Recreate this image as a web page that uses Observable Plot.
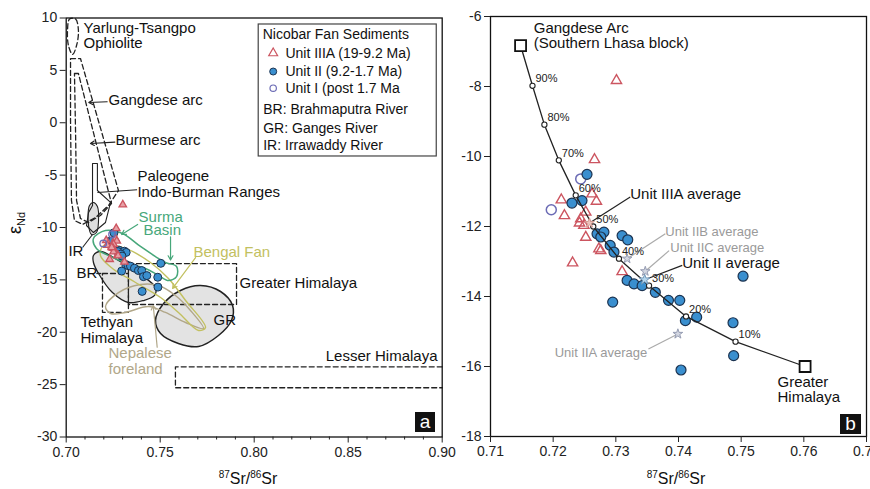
<!DOCTYPE html>
<html><head><meta charset="utf-8">
<script src="https://cdn.jsdelivr.net/npm/d3@7"></script>
<script src="https://cdn.jsdelivr.net/npm/@observablehq/plot@0.6"></script>
<style>
html,body{margin:0;padding:0;background:#fff;overflow:hidden}
#wrap{position:relative;width:870px;height:489px;overflow:hidden;background:#fff;font-family:"Liberation Sans",Arial,Helvetica,sans-serif;color:#111}
#pa{position:absolute;left:0;top:0;width:446px;height:489px}
#pb{position:absolute;left:446px;top:0;width:424px;height:489px}
.ttl{position:absolute;font-size:16px;white-space:nowrap;transform:translate(-50%,-50%)}
.ttl sup{font-size:10px;vertical-align:6px;line-height:0}
.ylab{position:absolute;font-size:18px;white-space:nowrap;transform:translate(-50%,-50%) rotate(-90deg)}
.ylab sub{font-size:11px;vertical-align:-4px;line-height:0}
.tag{position:absolute;background:#111;color:#fff;font-size:19px;line-height:20px;text-align:center}
</style></head>
<body><div id="wrap"><div id="pb"></div><div id="pa"></div>
<div class="ylab" style="left:15px;top:223px">ε<sub>Nd</sub></div>
<div class="ttl" style="left:248px;top:479px"><sup>87</sup>Sr/<sup>86</sup>Sr</div>
<div class="ttl" style="left:676px;top:479px"><sup>87</sup>Sr/<sup>86</sup>Sr</div>
<div class="tag" style="left:415px;top:412px;width:20px;height:20px">a</div>
<div class="tag" style="left:840px;top:414px;width:21px;height:20px">b</div>
</div>
<script>
const FONT = "'Liberation Sans', Arial, Helvetica, sans-serif";

// ---------- Nicobar Fan sediments: [87Sr/86Sr, εNd] ----------
const unitIIIA = [
  [0.7301,-7.83],[0.7266,-10.09],[0.7213,-11.24],[0.7218,-11.69],[0.7262,-11.07],
  [0.7269,-11.28],[0.7244,-11.78],[0.7252,-11.59],[0.7249,-11.97],[0.7252,-12.31],
  [0.7273,-12.64],[0.7276,-12.69],[0.7231,-13.04],[0.7310,-13.29],[0.7242,-11.90]
];
const unitII = [
  [0.7254,-10.51],[0.7230,-11.33],[0.7246,-11.26],[0.7270,-12.21],[0.7281,-12.16],
  [0.7276,-12.30],[0.7310,-12.26],[0.7319,-12.38],[0.7291,-12.54],[0.7297,-12.73],
  [0.7318,-13.54],[0.7329,-13.64],[0.7342,-13.69],[0.7363,-13.88],[0.7384,-14.11],
  [0.7295,-14.16],[0.7402,-14.11],[0.7411,-14.69],[0.7429,-14.59],[0.7487,-14.75],
  [0.7503,-13.42],[0.7488,-15.69],[0.7404,-16.10]
];
const unitI = [[0.7197,-11.52],[0.7244,-10.64]];

// ---------- mixing model ----------
const mixPct = [90,80,70,60,50,40,30,20,10];
const mixSr  = [0.7167,0.7186,0.7209,0.7236,0.7264,0.7305,0.7353,0.7412,0.7491];
const mixNd  = [-7.98,-9.09,-10.11,-11.11,-12.00,-12.92,-13.69,-14.57,-15.29];
const endSr = [0.7148, 0.7602];   // Gangdese Arc, Greater Himalaya
const endNd = [-6.83, -16.0];

// ---------- averages ----------
const avgNames = ["Unit IIIA average","Unit IIB average","Unit IIC average","Unit II average","Unit IIA average"];
const avgSr = [0.7258,0.7318,0.7347,0.7346,0.7399];
const avgNd = [-11.90,-12.92,-13.28,-13.52,-15.07];

// ---------- source fields (panel a) ----------
const ophiolite = [[0.7018,9.9],[0.7050,9.9],[0.7065,8.8],[0.7055,7.37],[0.7034,6.52],[0.7012,7.37],[0.7007,8.8]];
const gangdeseField = [[0.7023,6.13],[0.7076,6.13],[0.7278,-6.47],[0.7225,-7.9],[0.7156,-9.05],[0.7087,-9.71],[0.7044,-9.33],[0.7028,-7.42],[0.7023,0.21]];
const burmeseField = [[0.7044,4.70],[0.7065,4.70],[0.7241,-7.71],[0.7182,-8.85],[0.7119,-9.52],[0.7076,-9.14],[0.7055,-7.42],[0.7050,-1.12]];
const indoBurman = [[0.7140,-3.89],[0.7166,-3.89],[0.7166,-6.47],[0.7236,-7.61],[0.7209,-9.52],[0.7145,-10.48],[0.7108,-9.81],[0.7119,-8.57],[0.7140,-7.90]];
const irrawaddy = [[0.7124,-7.90],[0.7145,-7.61],[0.7166,-7.99],[0.7172,-9.33],[0.7161,-10.48],[0.7135,-10.67],[0.7119,-9.81]];
const brahmaputra = [[0.7145,-12.67],[0.7182,-12.29],[0.7278,-13.15],[0.7395,-14.49],[0.7475,-15.73],[0.7470,-16.49],[0.7411,-16.97],[0.7331,-17.16],[0.7246,-16.21],[0.7172,-14.39],[0.7145,-13.34]];
const ganges = [[0.7475,-18.88],[0.7518,-17.26],[0.7608,-16.01],[0.7714,-15.54],[0.7821,-16.11],[0.7885,-17.45],[0.7879,-18.88],[0.7810,-20.31],[0.7704,-21.36],[0.7597,-21.07],[0.7502,-20.12]];
const surma = [[0.7145,-11.05],[0.7209,-10.29],[0.7299,-10.57],[0.7395,-11.81],[0.7475,-12.77],[0.7528,-13.34],[0.7587,-13.72],[0.7587,-14.68],[0.7544,-15.06],[0.7491,-14.58],[0.7422,-13.91],[0.7315,-13.34],[0.7225,-12.67],[0.7161,-12.0]];
const bengalFan = [[0.7198,-11.72],[0.7315,-12.0],[0.7448,-13.34],[0.7544,-14.87],[0.7635,-16.97],[0.7741,-19.55],[0.7704,-19.83],[0.7597,-18.11],[0.7502,-16.68],[0.7369,-15.25],[0.7246,-13.91],[0.7182,-12.67]];
const nepalForeland = [[0.7209,-17.54],[0.7278,-16.21],[0.7395,-15.44],[0.7491,-15.54],[0.7581,-16.49],[0.7661,-17.92],[0.7730,-19.64],[0.7635,-19.07],[0.7528,-18.11],[0.7438,-17.54],[0.7315,-18.11],[0.7236,-18.21]];
const greaterHimBox = [[0.7331,-13.44],[0.7906,-13.44],[0.7906,-17.35],[0.7331,-17.35]];
const tethyanBox = [[0.7193,-14.39],[0.7331,-14.39],[0.7331,-18.10],[0.7193,-18.10]];
const lesserHimBox = [[0.90,-23.3],[0.7581,-23.3],[0.7581,-25.3],[0.90,-25.3]];

// ---------- ticks ----------
const xTicksA = [0.70,0.75,0.80,0.85,0.90];
const xMinorA = [0.71,0.72,0.73,0.74,0.76,0.77,0.78,0.79,0.81,0.82,0.83,0.84,0.86,0.87,0.88,0.89];
const yTicksA = [10,5,0,-5,-10,-15,-20,-25,-30];
const xTicksB = [0.71,0.72,0.73,0.74,0.75,0.76,0.77];
const yTicksB = [-6,-8,-10,-12,-14,-16,-18];

// ---------- annotations (panel a) ----------
const labelsA = [
  {t:"Yarlung-Tsangpo", x:0.7092, y:9.0},
  {t:"Ophiolite", x:0.7092, y:7.55},
  {t:"Gangdese arc", x:0.7225, y:2.12},
  {t:"Burmese arc", x:0.7262, y:-1.65},
  {t:"Paleogene", x:0.7379, y:-5.13},
  {t:"Indo-Burman Ranges", x:0.7379, y:-6.61},
  {t:"IR", x:0.7012, y:-12.29},
  {t:"BR", x:0.7055, y:-14.39},
  {t:"Greater Himalaya", x:0.7922, y:-15.35},
  {t:"Tethyan", x:0.7076, y:-19.07},
  {t:"Himalaya", x:0.7076, y:-20.55},
  {t:"GR", x:0.7784, y:-18.88}
];
const greenLabels = [{t:"Surma", x:0.7385, y:-9.05},{t:"Basin", x:0.7411, y:-10.29}];
const oliveLabels = [{t:"Bengal Fan", x:0.7677, y:-12.39}];
const tanLabels = [{t:"Nepalese", x:0.7225, y:-22.03},{t:"foreland", x:0.7225, y:-23.50}];
const legendUnits = ["Unit IIIA (19-9.2 Ma)","Unit II (9.2-1.7 Ma)","Unit I (post 1.7 Ma"];
const legendUnitNd = [6.64,4.89,3.30];
const legendRivers = ["BR: Brahmaputra River","GR: Ganges River","IR: Irrawaddy River"];
const legendRiverNd = [1.26,-0.55,-2.17];

const BLUE = "#3a8fcf", BLUEST = "#1c3350", RED = "#cc5560", VIOLET = "#6b6bb5";
const GREEN = "#47a77a", OLIVE = "#c2c060", TAN = "#b1a789";

const P = d => d[0], Q = d => d[1];
const dash = {stroke:"#222", strokeWidth:1.3, strokeDasharray:"5,3", fill:"none"};
const txt = (arr, o) => Plot.text(arr, {x:"x", y:"y", text:"t", textAnchor:"start", fontSize:15, fill:"#111", ...o});

const pa = Plot.plot({
  width: 446, height: 489,
  marginLeft: 65.7, marginRight: 4.3, marginTop: 17.5, marginBottom: 52.5,
  x: {domain: [0.70, 0.90]},
  y: {domain: [-30, 10]},
  style: {fontFamily: FONT, fontSize: "14px", color: "#222", background: "transparent", overflow: "visible"},
  marks: [
    Plot.line(ganges, {x:P, y:Q, curve:"catmull-rom-closed", fill:"#e3e3e3", stroke:"#222", strokeWidth:1.5}),
    Plot.line(brahmaputra, {x:P, y:Q, curve:"catmull-rom-closed", fill:"#e3e3e3", stroke:"#222", strokeWidth:1.3}),
    Plot.line(irrawaddy, {x:P, y:Q, curve:"catmull-rom-closed", fill:"#dedede", stroke:"#222", strokeWidth:1.1}),
    Plot.line(indoBurman, {x:P, y:Q, curve:"linear-closed", stroke:"#222", strokeWidth:1.1, fill:"none"}),
    Plot.line(ophiolite, {x:P, y:Q, curve:"catmull-rom-closed", ...dash}),
    Plot.line(gangdeseField, {x:P, y:Q, curve:"linear-closed", ...dash}),
    Plot.line(burmeseField, {x:P, y:Q, curve:"linear-closed", ...dash}),
    Plot.line(greaterHimBox, {x:P, y:Q, curve:"linear-closed", ...dash}),
    Plot.line(tethyanBox, {x:P, y:Q, curve:"linear-closed", ...dash}),
    Plot.line(lesserHimBox, {x:P, y:Q, ...dash}),
    Plot.link([0], {x1:0.7160, y1:-14.39, x2:0.7193, y2:-14.39, ...dash}),
    Plot.line(nepalForeland, {x:P, y:Q, curve:"catmull-rom-closed", stroke:TAN, strokeWidth:1.4, fill:"none"}),
    Plot.line(bengalFan, {x:P, y:Q, curve:"catmull-rom-closed", stroke:OLIVE, strokeWidth:1.4, fill:"none"}),
    Plot.line(surma, {x:P, y:Q, curve:"catmull-rom-closed", stroke:GREEN, strokeWidth:1.5, fill:"none"}),
    Plot.arrow([0], {x1:0.7218, y1:2.0, x2:0.7120, y2:1.93, stroke:"#222", strokeWidth:1.1, headLength:6}),
    Plot.arrow([0], {x1:0.7259, y1:-1.85, x2:0.7129, y2:-1.98, stroke:"#222", strokeWidth:1.1, headLength:6}),
    Plot.link([0], {x1:0.7377, y1:-6.40, x2:0.7166, y2:-6.66, stroke:"#222", strokeWidth:1.1}),
    Plot.link([0], {x1:0.7087, y1:-11.91, x2:0.7140, y2:-10.67, stroke:"#222", strokeWidth:1.1}),
    Plot.arrow([0], {x1:0.7380, y1:-9.71, x2:0.7295, y2:-10.67, stroke:GREEN, strokeWidth:1.2, headLength:6}),
    Plot.arrow([0], {x1:0.7555, y1:-10.9, x2:0.7555, y2:-13.1, stroke:GREEN, strokeWidth:1.2, headLength:6}),
    Plot.arrow([0], {x1:0.7688, y1:-12.87, x2:0.7566, y2:-15.82, stroke:OLIVE, strokeWidth:1.2, headLength:6}),
    Plot.arrow([0], {x1:0.7484, y1:-21.43, x2:0.7463, y2:-17.45, stroke:TAN, strokeWidth:1.2, headLength:6}),
    Plot.dot(unitII, {x:P, y:Q, r:4, fill:BLUE, stroke:BLUEST, strokeWidth:1}),
    Plot.dot(unitIIIA, {x:P, y:Q, r:2.8, symbol:"triangle", fill:"#e7a0a6", stroke:RED, strokeWidth:1.3}),
    Plot.dot(unitI, {x:P, y:Q, r:3.3, fill:"none", stroke:VIOLET, strokeWidth:1.3}),
    txt(labelsA, {}),
    txt(greenLabels, {fill:GREEN}),
    txt(oliveLabels, {fill:OLIVE}),
    txt(tanLabels, {fill:TAN}),
    Plot.text(["Lesser Himalaya"], {x:0.8975, y:-22.31, text:d=>d, textAnchor:"end", fontSize:15, fill:"#111"}),
    Plot.rect([0], {x1:0.8024, x2:0.8971, y1:9.38, y2:-3.22, fill:"white", stroke:"#444", strokeWidth:1.2}),
    Plot.text(["Nicobar Fan Sediments"], {x:0.8045, y:8.42, text:d=>d, textAnchor:"start", fontSize:14, fill:"#111"}),
    Plot.dot([0], {x:0.8101, y:legendUnitNd[0], r:3.3, symbol:"triangle", fill:"none", stroke:RED, strokeWidth:1.2}),
    Plot.dot([0], {x:0.8101, y:legendUnitNd[1], r:3.5, fill:BLUE, stroke:BLUEST, strokeWidth:1}),
    Plot.dot([0], {x:0.8101, y:legendUnitNd[2], r:3.2, fill:"none", stroke:VIOLET, strokeWidth:1.2}),
    Plot.text(legendUnits, {x:0.8166, y:(d,i)=>legendUnitNd[i], text:d=>d, textAnchor:"start", fontSize:14, fill:"#111"}),
    Plot.text(legendRivers, {x:0.8048, y:(d,i)=>legendRiverNd[i], text:d=>d, textAnchor:"start", fontSize:14, fill:"#111"}),
    Plot.frame({stroke:"#111", strokeWidth:1.3}),
    Plot.axisX({ticks:xMinorA, tickSize:3, tickFormat:()=>"", label:null}),
    Plot.axisX({ticks:xTicksA, tickSize:6, tickPadding:4, tickFormat:d=>d.toFixed(2), label:null, fontSize:14}),
    Plot.axisY({ticks:yTicksA, tickSize:6, tickPadding:3, tickFormat:d=>String(d), label:null, fontSize:14})
  ]
});
document.getElementById("pa").appendChild(pa);

const lineSr = [endSr[0], ...mixSr, endSr[1]];
const lineNd = [endNd[0], ...mixNd, endNd[1]];
const avgFill = ["#ecc3bc","#d3d7e2","#d3d7e2","#b4d6ee","#d3d7e2"];
const avgStroke = ["#d49a92","#959cb2","#959cb2","#7397b8","#959cb2"];
const avgR = [4.2,4,4,5,4.2];
const avgLabelX = [0.7323,0.7379,0.7387,0.7406,0.7350];
const avgLabelY = [-11.09,-12.14,-12.60,-13.06,-15.62];
const avgLabelEnd = [false,false,false,false,true];
const avgLabelColor = ["#111","#9a9a9a","#9a9a9a","#111","#9a9a9a"];
const avgLabelSize = [15,13,13,15,13];
const avgLeadX2 = [0.7323,0.7379,0.7385,0.7406,0.7352];
const avgLeadY2 = [-11.16,-12.21,-12.69,-13.11,-15.50];

const avgText = (end) => Plot.text(avgNames, {
  filter:(d,i)=>avgLabelEnd[i]===end,
  x:(d,i)=>avgLabelX[i], y:(d,i)=>avgLabelY[i], text:d=>d,
  textAnchor: end ? "end" : "start",
  fill:(d,i)=>avgLabelColor[i], fontSize:(d,i)=>avgLabelSize[i]
});

const pb = Plot.plot({
  width: 424, height: 489,
  marginLeft: 44, marginRight: 4, marginTop: 16, marginBottom: 53,
  x: {domain: [0.71, 0.77]},
  y: {domain: [-18, -6]},
  style: {fontFamily: FONT, fontSize: "14px", color: "#222", background: "transparent", overflow: "visible"},
  marks: [
    Plot.link(avgNames, {x1:(d,i)=>avgSr[i], y1:(d,i)=>avgNd[i], x2:(d,i)=>avgLeadX2[i], y2:(d,i)=>avgLeadY2[i], stroke:(d,i)=>avgLabelColor[i]==="#111"?"#222":"#aaa", strokeWidth:1.2}),
    Plot.dot(unitIIIA, {x:P, y:Q, r:3.8, symbol:"triangle", fill:"none", stroke:RED, strokeWidth:1.4}),
    Plot.dot(unitI, {x:P, y:Q, r:5, fill:"none", stroke:VIOLET, strokeWidth:1.5}),
    Plot.dot(unitII, {x:P, y:Q, r:5, fill:BLUE, stroke:BLUEST, strokeWidth:1.2}),
    Plot.line(lineSr, {x:d=>d, y:(d,i)=>lineNd[i], stroke:"#222", strokeWidth:1.3}),
    Plot.dot(mixSr, {x:d=>d, y:(d,i)=>mixNd[i], r:2.6, fill:"white", stroke:"#222", strokeWidth:1.1}),
    Plot.text(mixPct, {x:(d,i)=>mixSr[i], y:(d,i)=>mixNd[i], text:d=>d+"%", textAnchor:"start", dx:3, dy:-7, fontSize:11, fill:"#222"}),
    Plot.dot(avgNames, {x:(d,i)=>avgSr[i], y:(d,i)=>avgNd[i], r:(d,i)=>avgR[i], symbol:"star", fill:(d,i)=>avgFill[i], stroke:(d,i)=>avgStroke[i], strokeWidth:1}),
    avgText(false),
    avgText(true),
    Plot.dot(endSr, {x:d=>d, y:(d,i)=>endNd[i], r:6.2, symbol:"square", fill:"white", stroke:"#111", strokeWidth:1.8}),
    Plot.text(["Gangdese Arc","(Southern Lhasa block)"], {x:0.7169, y:(d,i)=>[-6.34,-6.77][i], text:d=>d, textAnchor:"start", fontSize:15, fill:"#111"}),
    Plot.text(["Greater","Himalaya"], {x:0.7558, y:(d,i)=>[-16.46,-16.89][i], text:d=>d, textAnchor:"start", fontSize:15, fill:"#111"}),
    Plot.frame({stroke:"#111", strokeWidth:1.3}),
    Plot.axisX({ticks:xTicksB, tickSize:6, tickPadding:4, tickFormat:d=>d.toFixed(2), label:null, fontSize:14}),
    Plot.axisY({ticks:yTicksB, tickSize:6, tickPadding:3, tickFormat:d=>String(d), label:null, fontSize:14})
  ]
});
document.getElementById("pb").appendChild(pb);
</script></body></html>
